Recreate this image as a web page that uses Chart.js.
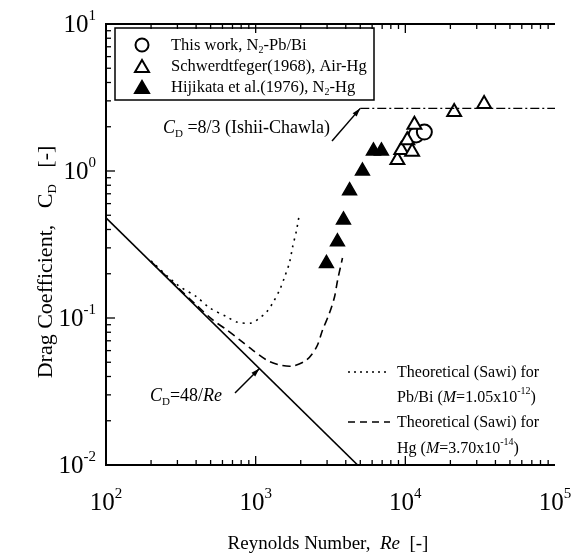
<!DOCTYPE html>
<html>
<head>
<meta charset="utf-8">
<script src="https://cdn.jsdelivr.net/npm/chart.js@4.4.0/dist/chart.umd.min.js"></script>
<style>
    html, body { margin: 0; padding: 0; background: #fff; }
</style>
</head>
<body>
<canvas id="chart" width="582" height="559"></canvas>
<script>
    // tick decades (powers of ten)
    var xDecades = [2, 3, 4, 5];
    var yDecades = [-2, -1, 0, 1];

    // This work, N2-Pb/Bi
    var thisWorkRe = [11800, 13400];
    var thisWorkCd = [1.76, 1.84];

    // Schwerdtfeger (1968), Air-Hg
    var schwerdtRe = [8850, 9400, 10300, 11100, 11500, 21200, 33600];
    var schwerdtCd = [1.19, 1.39, 1.62, 1.35, 2.06, 2.52, 2.86];

    // Hijikata et al. (1976), N2-Hg
    var hijikataRe = [2970, 3520, 3860, 4240, 5170, 6120, 6920];
    var hijikataCd = [0.235, 0.33, 0.465, 0.735, 1.0, 1.37, 1.37];

    // Cd = 48/Re
    var stokesRe = [100, 4800];
    var stokesCd = [0.48, 0.01];

    // Cd = 8/3 (Ishii-Chawla)
    var ishiiRe = [5000, 100000];
    var ishiiCd = [2.667, 2.667];

    // Theoretical (Sawi), Pb/Bi
    var sawiPbBiRe = [200, 300, 404, 494, 641, 747, 940, 1063, 1184, 1298, 1445, 1561, 1686, 1765, 1877, 1964];
    var sawiPbBiCd = [0.245, 0.168, 0.139, 0.117, 0.102, 0.094, 0.0925, 0.100, 0.110, 0.126, 0.155, 0.19, 0.24, 0.304, 0.397, 0.518];

    // Theoretical (Sawi), Hg
    var sawiHgRe = [200, 300, 400, 517, 641, 782, 955, 1184, 1445, 1765, 2188, 2553, 2799, 3113, 3363, 3524, 3802];
    var sawiHgCd = [0.242, 0.162, 0.123, 0.097, 0.083, 0.071, 0.0605, 0.0518, 0.0479, 0.0471, 0.0518, 0.0635, 0.0828, 0.108, 0.139, 0.18, 0.256];

    var FONT = '"Liberation Serif", "Times New Roman", serif';

    function toPoints(xs, ys) {
        var pts = [];
        for (var i = 0; i < xs.length; i++) {
            pts.push({ x: xs[i], y: ys[i] });
        }
        return pts;
    }

    // draw a run of text pieces: {t, s (size), i (italic), dy}
    function drawRich(ctx, parts, x, y, align) {
        var total = 0;
        parts.forEach(function (p) {
            ctx.font = (p.i ? 'italic ' : '') + p.s + 'px ' + FONT;
            p.w = ctx.measureText(p.t).width;
            total += p.w;
        });
        var cx = x;
        if (align === 'center') cx = x - total / 2;
        if (align === 'right') cx = x - total;
        ctx.textAlign = 'left';
        ctx.textBaseline = 'alphabetic';
        parts.forEach(function (p) {
            ctx.font = (p.i ? 'italic ' : '') + p.s + 'px ' + FONT;
            ctx.fillText(p.t, cx, y + (p.dy || 0));
            cx += p.w;
        });
    }

    function arrow(ctx, x0, y0, x1, y1) {
        ctx.beginPath();
        ctx.moveTo(x0, y0);
        ctx.lineTo(x1, y1);
        ctx.stroke();
        var a = Math.atan2(y1 - y0, x1 - x0);
        ctx.beginPath();
        ctx.moveTo(x1, y1);
        ctx.lineTo(x1 - 9 * Math.cos(a - 0.3), y1 - 9 * Math.sin(a - 0.3));
        ctx.lineTo(x1 - 9 * Math.cos(a + 0.3), y1 - 9 * Math.sin(a + 0.3));
        ctx.closePath();
        ctx.fill();
    }

    var decorations = {
        id: 'decorations',
        afterDatasetsDraw: function (chart) {
            var ctx = chart.ctx;
            var area = chart.chartArea;
            var xs = chart.scales.x;
            var ys = chart.scales.y;
            ctx.save();
            ctx.strokeStyle = '#000';
            ctx.fillStyle = '#000';

            // frame (left, top, bottom)
            ctx.lineWidth = 2;
            ctx.beginPath();
            ctx.moveTo(area.right, area.top);
            ctx.lineTo(area.left, area.top);
            ctx.lineTo(area.left, area.bottom);
            ctx.lineTo(area.right, area.bottom);
            ctx.stroke();

            // inward ticks
            ctx.lineWidth = 1.3;
            var k, m, p, len;
            for (k = 0; k < xDecades.length - 1; k++) {
                for (m = 1; m < 10; m++) {
                    p = xs.getPixelForValue(m * Math.pow(10, xDecades[k]));
                    len = m === 1 ? 9 : 5;
                    ctx.beginPath();
                    ctx.moveTo(p, area.bottom);
                    ctx.lineTo(p, area.bottom - len);
                    ctx.moveTo(p, area.top);
                    ctx.lineTo(p, area.top + len);
                    ctx.stroke();
                }
            }
            for (k = 0; k < yDecades.length - 1; k++) {
                for (m = 1; m < 10; m++) {
                    p = ys.getPixelForValue(m * Math.pow(10, yDecades[k]));
                    len = m === 1 ? 9 : 5;
                    ctx.beginPath();
                    ctx.moveTo(area.left, p);
                    ctx.lineTo(area.left + len, p);
                    ctx.stroke();
                }
            }

            // tick labels
            xDecades.forEach(function (d) {
                var px = xs.getPixelForValue(Math.pow(10, d));
                drawRich(ctx, [{ t: '10', s: 25 }, { t: String(d), s: 15, dy: -12 }], px, area.bottom + 45, 'center');
            });
            yDecades.forEach(function (d) {
                var py = ys.getPixelForValue(Math.pow(10, d));
                drawRich(ctx, [{ t: '10', s: 25 }, { t: String(d), s: 15, dy: -12 }], area.left - 10, py + 8, 'right');
            });

            // axis titles
            drawRich(ctx, [
                { t: 'Reynolds Number,  ', s: 19 },
                { t: 'Re', s: 19, i: true },
                { t: '  [-]', s: 19 }
            ], 328, 549, 'center');

            ctx.save();
            ctx.translate(52, 262);
            ctx.rotate(-Math.PI / 2);
            drawRich(ctx, [
                { t: 'Drag Coefficient,   C', s: 22 },
                { t: 'D', s: 13, dy: 4 },
                { t: '   [-]', s: 22 }
            ], 0, 0, 'center');
            ctx.restore();

            // top-left legend
            ctx.lineWidth = 1.5;
            ctx.strokeRect(115, 28, 259, 72);
            var rows = [45, 66, 87];
            ctx.lineWidth = 2;
            ctx.beginPath();
            ctx.arc(142, rows[0], 6.5, 0, Math.PI * 2);
            ctx.stroke();
            [1, 2].forEach(function (r) {
                var cy = rows[r] + 1;
                ctx.beginPath();
                ctx.moveTo(142, cy - 7);
                ctx.lineTo(149, cy + 5);
                ctx.lineTo(135, cy + 5);
                ctx.closePath();
                if (r === 2) ctx.fill();
                ctx.stroke();
            });
            drawRich(ctx, [{ t: 'This work, N', s: 16.5 }, { t: '2', s: 10, dy: 3 }, { t: '-Pb/Bi', s: 16.5 }], 171, rows[0] + 5, 'left');
            drawRich(ctx, [{ t: 'Schwerdtfeger(1968), Air-Hg', s: 16.5 }], 171, rows[1] + 5, 'left');
            drawRich(ctx, [{ t: 'Hijikata et al.(1976), N', s: 16.5 }, { t: '2', s: 10, dy: 3 }, { t: '-Hg', s: 16.5 }], 171, rows[2] + 5, 'left');

            // lower-right legend
            ctx.lineWidth = 1.5;
            ctx.setLineDash([2, 4]);
            ctx.beginPath();
            ctx.moveTo(348, 372);
            ctx.lineTo(390, 372);
            ctx.stroke();
            ctx.setLineDash([7, 5]);
            ctx.beginPath();
            ctx.moveTo(348, 422);
            ctx.lineTo(390, 422);
            ctx.stroke();
            ctx.setLineDash([]);
            drawRich(ctx, [{ t: 'Theoretical (Sawi) for', s: 16 }], 397, 377, 'left');
            drawRich(ctx, [
                { t: 'Pb/Bi (', s: 16 }, { t: 'M', s: 16, i: true }, { t: '=1.05x10', s: 16 },
                { t: '-12', s: 10, dy: -8 }, { t: ')', s: 16 }
            ], 397, 402, 'left');
            drawRich(ctx, [{ t: 'Theoretical (Sawi) for', s: 16 }], 397, 427, 'left');
            drawRich(ctx, [
                { t: 'Hg (', s: 16 }, { t: 'M', s: 16, i: true }, { t: '=3.70x10', s: 16 },
                { t: '-14', s: 10, dy: -8 }, { t: ')', s: 16 }
            ], 397, 453, 'left');

            // annotations with arrows
            drawRich(ctx, [
                { t: 'C', s: 18, i: true }, { t: 'D', s: 11, dy: 4 },
                { t: ' =8/3 (Ishii-Chawla)', s: 18 }
            ], 163, 133, 'left');
            ctx.lineWidth = 1.5;
            arrow(ctx, 332, 141, xs.getPixelForValue(ishiiRe[0]), ys.getPixelForValue(ishiiCd[0]));

            drawRich(ctx, [
                { t: 'C', s: 18, i: true }, { t: 'D', s: 11, dy: 4 },
                { t: '=48/', s: 18 }, { t: 'Re', s: 18, i: true }
            ], 150, 401, 'left');
            arrow(ctx, 235, 393, xs.getPixelForValue(1060), ys.getPixelForValue(48 / 1060));

            ctx.restore();
        }
    };

    var ctx = document.getElementById('chart').getContext('2d');
    new Chart(ctx, {
        type: 'scatter',
        data: {
            datasets: [
                {
                    data: toPoints(stokesRe, stokesCd),
                    showLine: true, borderColor: '#000', borderWidth: 1.6,
                    pointRadius: 0
                },
                {
                    data: toPoints(ishiiRe, ishiiCd),
                    showLine: true, borderColor: '#000', borderWidth: 1.4,
                    borderDash: [9, 3, 2, 3], pointRadius: 0
                },
                {
                    data: toPoints(sawiPbBiRe, sawiPbBiCd),
                    showLine: true, borderColor: '#000', borderWidth: 1.6,
                    borderDash: [2, 5], tension: 0.3, pointRadius: 0
                },
                {
                    data: toPoints(sawiHgRe, sawiHgCd),
                    showLine: true, borderColor: '#000', borderWidth: 1.6,
                    borderDash: [8, 5], tension: 0.3, pointRadius: 0
                },
                {
                    data: toPoints(hijikataRe, hijikataCd),
                    pointStyle: 'triangle', pointRadius: 8,
                    backgroundColor: '#000', borderColor: '#000', borderWidth: 1.5
                },
                {
                    data: toPoints(schwerdtRe, schwerdtCd),
                    pointStyle: 'triangle', pointRadius: 8,
                    backgroundColor: '#fff', borderColor: '#000', borderWidth: 2
                },
                {
                    data: toPoints(thisWorkRe, thisWorkCd),
                    pointStyle: 'circle', pointRadius: 7.5,
                    backgroundColor: '#fff', borderColor: '#000', borderWidth: 2
                }
            ]
        },
        options: {
            responsive: false,
            animation: false,
            layout: { padding: { left: 106, right: 27, top: 24, bottom: 94 } },
            plugins: {
                legend: { display: false },
                tooltip: { enabled: false }
            },
            scales: {
                x: { type: 'logarithmic', min: 100, max: 100000, display: false },
                y: { type: 'logarithmic', min: 0.01, max: 10, display: false }
            }
        },
        plugins: [decorations]
    });
</script>
</body>
</html>
